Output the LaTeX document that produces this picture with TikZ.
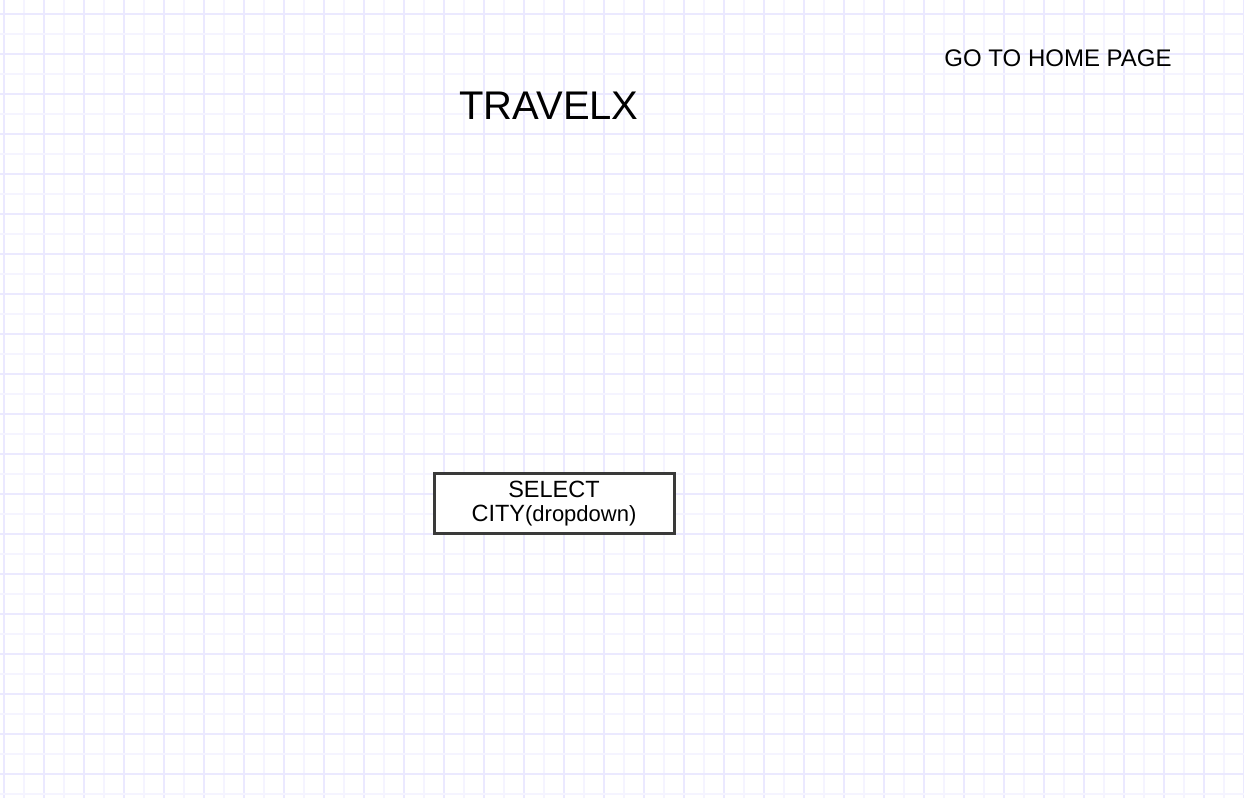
\documentclass[tikz,border=0pt]{standalone}
\usepackage{fontspec}
\setmainfont{Liberation Sans}
\definecolor{gridmajor}{HTML}{EBE9FF}
\definecolor{gridminor}{HTML}{F5F4FF}
\definecolor{boxborder}{HTML}{3A3A3A}
\tikzset{
  minorline/.style={draw=gridminor, line width=2pt},
  majorline/.style={draw=gridmajor, line width=2pt},
  label/.style={inner sep=0pt, text=black},
  boxnode/.style={draw=boxborder, line width=3pt, fill=white, minimum width=240pt, minimum height=60pt, inner sep=0pt, align=center, font=\fontsize{23.5}{26}\selectfont}
}
\begin{document}
\begin{tikzpicture}[x=1pt, y=-1pt]
\useasboundingbox (0,0) rectangle (1244,798);
\fill[white] (0,0) rectangle (1244,798);
\foreach \i in {0,...,62} {
  \pgfmathtruncatemacro{\xx}{4+20*\i}
  \pgfmathtruncatemacro{\m}{mod(\i,2)}
  \ifnum\m=0 \draw[majorline] (\xx,0) -- (\xx,798); \else \draw[minorline] (\xx,0) -- (\xx,798); \fi
}
\foreach \j in {0,...,39} {
  \pgfmathtruncatemacro{\yy}{14+20*\j}
  \pgfmathtruncatemacro{\m}{mod(\j,2)}
  \ifnum\m=0 \draw[majorline] (0,\yy) -- (1244,\yy); \else \draw[minorline] (0,\yy) -- (1244,\yy); \fi
}
\node[label, font=\fontsize{40}{44}\selectfont] (title) at (549,106) {TRAVELX};
\node[label, font=\fontsize{24}{28}\selectfont] (home) at (1058,58) {GO TO HOME PAGE};
\node[boxnode] (city) at (554,503.5) {SELECT\\[-2pt]CITY{\fontsize{22}{24}\selectfont(dropdown)}};
\end{tikzpicture}
\end{document}
